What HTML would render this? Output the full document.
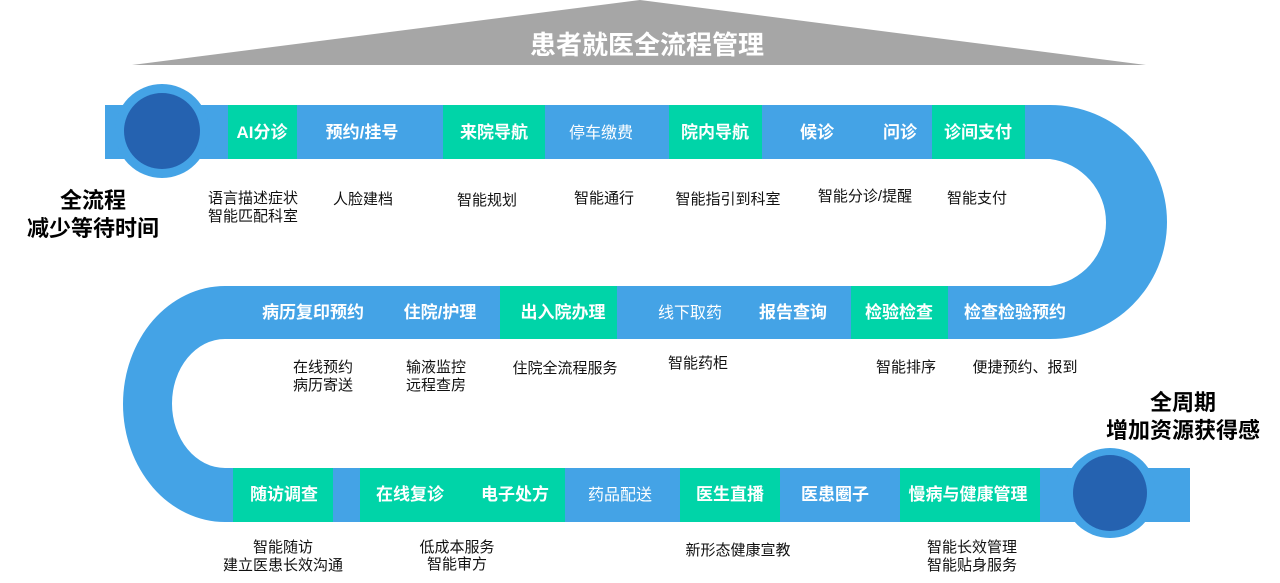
<!DOCTYPE html>
<html><head><meta charset="utf-8"><style>
html,body{margin:0;padding:0;background:#fff;}
svg{display:block;}
text{font-family:"Liberation Sans","Noto Sans CJK SC",sans-serif;}
.w{fill:#fff;font-weight:bold;font-size:17px;text-anchor:middle;}
.n{fill:#fff;font-size:16px;text-anchor:middle;}
.d{fill:#111;font-size:15px;text-anchor:middle;}
.b{fill:#000;font-weight:bold;font-size:22px;text-anchor:middle;}
</style></head><body>
<svg width="1280" height="583" viewBox="0 0 1280 583" xmlns="http://www.w3.org/2000/svg">
<polygon points="640,0 1146,65 132,65" fill="#a6a6a6"/>
<text x="647" y="54" fill="#fff" font-weight="bold" font-size="26" text-anchor="middle">患者就医全流程管理</text>

<g fill="#44a3e6">
<rect x="105" y="105" width="946" height="54"/>
<path d="M1050,105 A117,117 0 0 1 1050,339 L1050,286 A64,64 0 0 0 1050,159 Z"/>
<rect x="224" y="286" width="827" height="53"/>
<path d="M225,286 A102,118 0 0 0 225,522 L225,468 A53,64.5 0 0 1 225,339 Z"/>
<rect x="224" y="468" width="966" height="54"/>
<circle cx="162" cy="131" r="47"/>
<ellipse cx="1110" cy="493" rx="46" ry="45"/>
</g>
<circle cx="162" cy="131" r="38" fill="#2562b0"/>
<ellipse cx="1110" cy="493" rx="37" ry="38" fill="#2562b0"/>

<g fill="#00d4a8">
<rect x="228" y="105" width="69" height="54"/>
<rect x="443" y="105" width="102" height="54"/>
<rect x="669" y="105" width="93" height="54"/>
<rect x="932" y="105" width="93" height="54"/>
<rect x="500" y="286" width="117" height="53"/>
<rect x="851" y="286" width="97" height="53"/>
<rect x="233" y="468" width="100" height="54"/>
<rect x="360" y="468" width="205" height="54"/>
<rect x="680" y="468" width="100" height="54"/>
<rect x="900" y="468" width="140" height="54"/>
</g>

<text class="w" x="262" y="138">AI分诊</text>
<text class="w" x="362" y="138">预约/挂号</text>
<text class="w" x="494" y="138">来院导航</text>
<text class="n" x="601" y="138">停车缴费</text>
<text class="w" x="715" y="138">院内导航</text>
<text class="w" x="817" y="138">候诊</text>
<text class="w" x="900" y="138">问诊</text>
<text class="w" x="978" y="138">诊间支付</text>

<text class="w" x="313" y="318">病历复印预约</text>
<text class="w" x="440" y="318">住院/护理</text>
<text class="w" x="563" y="318">出入院办理</text>
<text class="n" x="690" y="318">线下取药</text>
<text class="w" x="793" y="318">报告查询</text>
<text class="w" x="899" y="318">检验检查</text>
<text class="w" x="1015" y="318">检查检验预约</text>

<text class="w" x="284" y="500">随访调查</text>
<text class="w" x="410" y="500">在线复诊</text>
<text class="w" x="515" y="500">电子处方</text>
<text class="n" x="620" y="500">药品配送</text>
<text class="w" x="730" y="500">医生直播</text>
<text class="w" x="835" y="500">医患圈子</text>
<text class="w" x="968" y="500">慢病与健康管理</text>

<text class="d" x="253" y="203">语言描述症状</text>
<text class="d" x="253" y="221">智能匹配科室</text>
<text class="d" x="363" y="204">人脸建档</text>
<text class="d" x="487" y="205">智能规划</text>
<text class="d" x="604" y="203">智能通行</text>
<text class="d" x="728" y="204">智能指引到科室</text>
<text class="d" x="865" y="201">智能分诊/提醒</text>
<text class="d" x="977" y="203">智能支付</text>

<text class="d" x="323" y="372">在线预约</text>
<text class="d" x="323" y="390">病历寄送</text>
<text class="d" x="436" y="372">输液监控</text>
<text class="d" x="436" y="390">远程查房</text>
<text class="d" x="565" y="373">住院全流程服务</text>
<text class="d" x="698" y="368">智能药柜</text>
<text class="d" x="906" y="372">智能排序</text>
<text class="d" x="1025" y="372">便捷预约、报到</text>

<text class="d" x="283" y="552">智能随访</text>
<text class="d" x="283" y="570">建立医患长效沟通</text>
<text class="d" x="457" y="552">低成本服务</text>
<text class="d" x="457" y="569">智能审方</text>
<text class="d" x="738" y="555">新形态健康宣教</text>
<text class="d" x="972" y="552">智能长效管理</text>
<text class="d" x="972" y="570">智能贴身服务</text>

<text class="b" x="93" y="208">全流程</text>
<text class="b" x="93" y="236">减少等待时间</text>
<text class="b" x="1183" y="410">全周期</text>
<text class="b" x="1183" y="438">增加资源获得感</text>
</svg>
</body></html>
